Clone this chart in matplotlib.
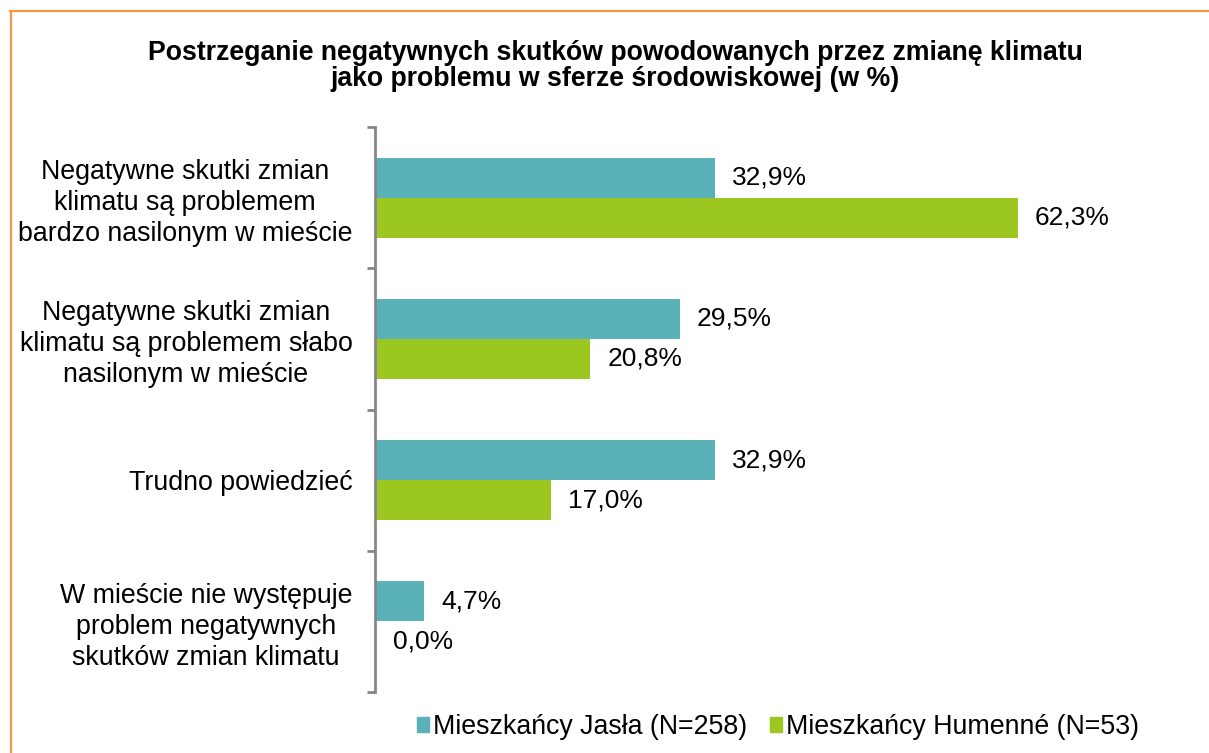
import matplotlib
matplotlib.use("Agg")
import matplotlib.pyplot as plt
from matplotlib.lines import Line2D
from matplotlib.patches import Patch
import numpy as np

plt.rcParams['font.family'] = ['Liberation Sans', 'DejaVu Sans']

title = "Postrzeganie negatywnych skutków powodowanych przez zmianę klimatu\njako problemu w sferze środowiskowej (w %)"
categories = [
    "Negatywne skutki zmian\nklimatu są problemem\nbardzo nasilonym w mieście",
    "Negatywne skutki zmian\nklimatu są problemem słabo\nnasilonym w mieście",
    "Trudno powiedzieć",
    "W mieście nie występuje\nproblem negatywnych\nskutków zmian klimatu",
]
series_names = ["Mieszkańcy Jasła (N=258)", "Mieszkańcy Humenné (N=53)"]
jaslo = [32.9, 29.5, 32.9, 4.7]
humenne = [62.3, 20.8, 17.0, 0.0]

colors = ["#5BB1B8", "#9CC620"]
W, H = 1209, 753
fig = plt.figure(figsize=(W / 100, H / 100), dpi=100)
fig.patch.set_facecolor("white")

ax = fig.add_axes([376 / W, (H - 692) / H, (1097 - 376) / W, (692 - 127) / H])
y = np.arange(len(categories))
bh = 0.283
b1 = ax.barh(y - bh / 2, jaslo, height=bh, color=colors[0], label=series_names[0])
b2 = ax.barh(y + bh / 2, humenne, height=bh, color=colors[1], label=series_names[1])
ax.set_xlim(0, 70)
ax.set_ylim(len(categories) - 0.5, -0.5)

for bars, vals in ((b1, jaslo), (b2, humenne)):
    for rect, v in zip(bars, vals):
        ax.annotate(f"{v:.1f}%".replace(".", ","),
                    xy=(v, rect.get_y() + rect.get_height() / 2),
                    xytext=(17, 0), textcoords="offset pixels",
                    ha="left", va="center", fontsize=19, color="black")

for s in ("top", "right", "bottom"):
    ax.spines[s].set_visible(False)
ax.spines["left"].set_color("#868686")
ax.spines["left"].set_linewidth(2)
ax.spines["left"].set_position(("outward", 1))
ax.set_xticks([])
ax.set_yticks(y)
ax.set_yticklabels(categories, fontsize=19.3, linespacing=1.24, multialignment="center")
ax.tick_params(axis="y", which="major", length=0, pad=16)
ax.set_yticks(np.arange(-0.5, len(categories)), minor=True)
ax.tick_params(axis="y", which="minor", length=6, width=2, color="#868686")

fig.text(0.5 * (147 + 1083) / W, 1 - 66 / H, title, ha="center", va="center",
         fontsize=19.2, fontweight="bold", linespacing=1.05)

handles = [Patch(color=colors[0]), Patch(color=colors[1])]
fig.legend(handles, series_names, loc="center", bbox_to_anchor=(778 / W, (H - 727) / H),
           ncol=2, frameon=False, fontsize=19.3, handlelength=0.45, handleheight=0.45,
           handletextpad=0.15, columnspacing=0.85)

lc = "#F79646"
fig.add_artist(Line2D([10.5 / W, 10.5 / W], [0, 1 - 11 / H], color=lc, lw=1.6, transform=fig.transFigure))
fig.add_artist(Line2D([10 / W, 1], [1 - 11 / H, 1 - 11 / H], color=lc, lw=1.6, transform=fig.transFigure))

fig.savefig("out.png", dpi=100, facecolor="white")
